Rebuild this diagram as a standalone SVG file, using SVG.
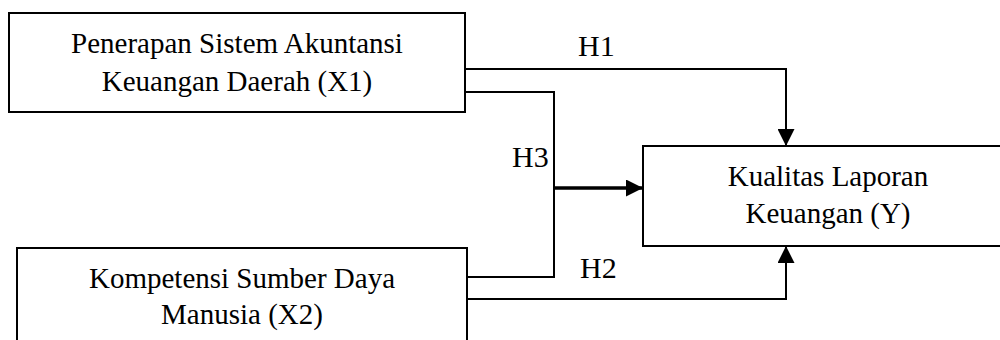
<svg xmlns="http://www.w3.org/2000/svg" width="1000" height="340" viewBox="0 0 1000 340">
  <style>
    .box { fill: #ffffff; stroke: #000000; stroke-width: 2; }
    .lbl { font-family: "Liberation Serif", "Times New Roman", serif; font-size: 29px; fill: #000000; text-anchor: middle; }
    .hyp { font-family: "Liberation Serif", "Times New Roman", serif; font-size: 30px; fill: #000000; }
    .wire { fill: none; stroke: #000000; stroke-width: 2; }
    .wire-bold { fill: none; stroke: #000000; stroke-width: 3.5; }
  </style>
  <defs>
    <marker id="head" markerUnits="userSpaceOnUse" markerWidth="17" markerHeight="17" viewBox="0 0 17 17" refX="17" refY="8.5" orient="auto">
      <path d="M0,0 L17,8.5 L0,17 Z" fill="#000000"/>
    </marker>
  </defs>
  <rect width="1000" height="340" fill="#ffffff"/>

  <g id="connectors">
    <!-- H1: X1 to Y -->
    <path class="wire" d="M465,69 H786 V146" marker-end="url(#head)"/>
    <!-- H3: joint path of X1 and X2 -->
    <path class="wire" d="M465,92 H554 V188"/>
    <path class="wire" d="M467,277 H554 V188"/>
    <path class="wire-bold" d="M553,188 H643" marker-end="url(#head)"/>
    <!-- H2: X2 to Y -->
    <path class="wire" d="M467,299 H786 V246" marker-end="url(#head)"/>
  </g>

  <g id="node-x1">
    <rect class="box" x="9" y="13" width="456" height="99"/>
    <text class="lbl" x="237" y="53">Penerapan Sistem Akuntansi</text>
    <text class="lbl" x="237" y="91">Keuangan Daerah (X1)</text>
  </g>

  <g id="node-x2">
    <rect class="box" x="17" y="248" width="450" height="110"/>
    <text class="lbl" x="242" y="288">Kompetensi Sumber Daya</text>
    <text class="lbl" x="242" y="324">Manusia (X2)</text>
  </g>

  <g id="node-y">
    <rect class="box" x="643" y="146" width="372" height="100"/>
    <text class="lbl" x="828" y="186">Kualitas Laporan</text>
    <text class="lbl" x="828" y="223">Keuangan (Y)</text>
  </g>

  <g id="labels">
    <text class="hyp" x="578" y="56">H1</text>
    <text class="hyp" x="512" y="167">H3</text>
    <text class="hyp" x="580" y="278">H2</text>
  </g>
</svg>
